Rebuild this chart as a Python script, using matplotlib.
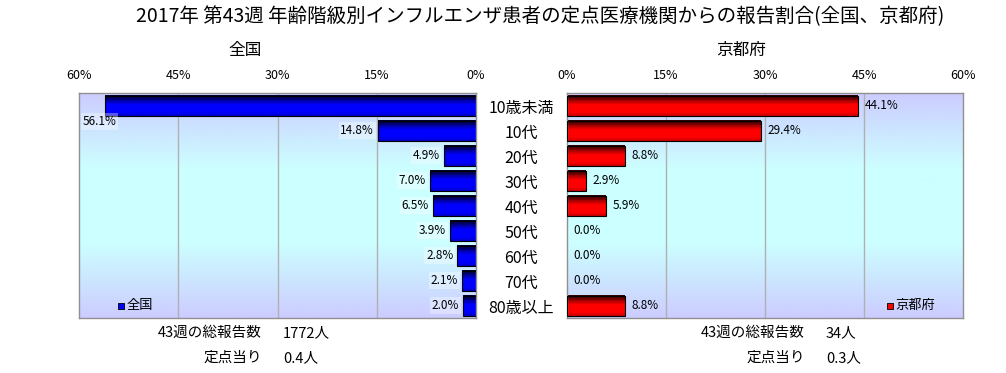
import numpy as np
import matplotlib
matplotlib.use("Agg")
import matplotlib.pyplot as plt
from matplotlib.colors import LinearSegmentedColormap

plt.rcParams['font.family'] = ['Noto Sans CJK JP', 'DejaVu Sans']

categories = ['10歳未満', '10代', '20代', '30代', '40代', '50代', '60代', '70代', '80歳以上']
zenkoku = [56.1, 14.8, 4.9, 7.0, 6.5, 3.9, 2.8, 2.1, 2.0]
kyoto = [44.1, 29.4, 8.8, 2.9, 5.9, 0.0, 0.0, 0.0, 8.8]
ticks = [0, 15, 30, 45, 60]
tick_labels = ['0%', '15%', '30%', '45%', '60%']
title = '2017年 第43週 年齢階級別インフルエンザ患者の定点医療機関からの報告割合(全国、京都府)'
left_title = '全国'
right_title = '京都府'
left_notes = [('43週の総報告数', '1772人'), ('定点当り', '0.4人')]
right_notes = [('43週の総報告数', '34人'), ('定点当り', '0.3人')]

W, H = 1006, 373
fig = plt.figure(figsize=(W / 100, H / 100), dpi=100)
fig.patch.set_facecolor('white')

bg_cmap = LinearSegmentedColormap.from_list('bg', ['#ccccff', '#ccffff', '#ccffff', '#ccccff'])
blue_cmap = LinearSegmentedColormap.from_list(
    'bl', [(0, '#000030'), (0.15, '#000070'), (0.45, '#0000ff'), (0.85, '#0000ff'), (1, '#0000cc')])
red_cmap = LinearSegmentedColormap.from_list(
    'rd', [(0, '#300000'), (0.15, '#700000'), (0.45, '#ff0000'), (0.85, '#ff0000'), (1, '#cc0000')])

ax_l = fig.add_axes([79 / W, 1 - 318 / H, 397 / W, 225 / H])
ax_r = fig.add_axes([567 / W, 1 - 318 / H, 396 / W, 225 / H])

n = len(categories)
ypos = np.arange(n)
bar_h = 0.8
strips = 24


def setup(ax, invert):
    xl = (60, 0) if invert else (0, 60)
    grad = np.linspace(0, 1, 256).reshape(-1, 1)
    ax.imshow(grad, aspect='auto', cmap=bg_cmap, origin='upper',
              extent=[xl[0], xl[1], n - 0.5, -0.5], zorder=0)
    ax.set_xlim(*xl)
    ax.set_ylim(n - 0.5, -0.5)
    for t in [15, 30, 45]:
        ax.axvline(t, color='#b0b0b0', lw=1, zorder=1)
    ax.xaxis.tick_top()
    ax.set_xticks(ticks)
    ax.set_xticklabels(tick_labels, fontsize=9)
    ax.tick_params(axis='x', length=0, pad=8)
    ax.set_yticks([])
    for s in ax.spines.values():
        s.set_color('#909090')
        s.set_linewidth(1)


def draw_bars(ax, vals, cmap, invert):
    sh = bar_h / strips
    for y, v in zip(ypos, vals):
        if v <= 0:
            continue
        top = y - bar_h / 2  # visually top (y axis inverted)
        for k in range(strips):
            ax.barh([top + (k + 0.5) * sh], [v], height=sh * 1.05, color=cmap(k / (strips - 1)),
                    lw=0, zorder=2)
        ax.barh([y], [v], height=bar_h, color='none', edgecolor='black', lw=0.8, zorder=3)
    ax.set_xlim(*((60, 0) if invert else (0, 60)))
    ax.set_ylim(n - 0.5, -0.5)


setup(ax_l, True)
setup(ax_r, False)
draw_bars(ax_l, zenkoku, blue_cmap, True)
draw_bars(ax_r, kyoto, red_cmap, False)

box = dict(boxstyle='square,pad=0.15', facecolor='white', alpha=0.35, edgecolor='none')
for y, v in zip(ypos, zenkoku):
    lab = f'{v:.1f}%'
    if v > 52:
        ax_l.text(59.5, y + 0.65, lab, ha='left', va='center', fontsize=8.5, zorder=4, bbox=box)
    else:
        ax_l.text(v + 0.6, y, lab, ha='right', va='center', fontsize=8.5, zorder=4, bbox=box)
for y, v in zip(ypos, kyoto):
    ax_r.text(v + 1.0, y, f'{v:.1f}%', ha='left', va='center', fontsize=8.5, zorder=4)

# legends
ax_l.scatter([53.6], [8], marker='s', s=20, color='#0000ff', edgecolor='black', lw=0.6, zorder=5)
ax_l.text(52.8, 8, left_title, ha='left', va='center', fontsize=9.5, zorder=5)
ax_r.scatter([48.9], [8], marker='s', s=20, color='#ff0000', edgecolor='black', lw=0.6, zorder=5)
ax_r.text(49.7, 8, right_title, ha='left', va='center', fontsize=9.5, zorder=5)

# category labels between axes
for y, c in zip(ypos, categories):
    disp = ax_l.transData.transform((0, y + 0.12))
    fy = fig.transFigure.inverted().transform(disp)[1]
    fig.text(521 / W, fy, c, ha='center', va='center', fontsize=11.5)

fig.text(540 / W, 1 - 17 / H, title, ha='center', va='center', fontsize=14)
fig.text(245 / W, 1 - 50 / H, left_title, ha='center', va='center', fontsize=12)
fig.text(741 / W, 1 - 50 / H, right_title, ha='center', va='center', fontsize=12)

for (k, v), yy in zip(left_notes, [333, 358]):
    fig.text(262 / W, 1 - yy / H, k, ha='right', va='center', fontsize=10.5)
    fig.text(283 / W, 1 - yy / H, v, ha='left', va='center', fontsize=10.5)
for (k, v), yy in zip(right_notes, [333, 358]):
    fig.text(805 / W, 1 - yy / H, k, ha='right', va='center', fontsize=10.5)
    fig.text(826 / W, 1 - yy / H, v, ha='left', va='center', fontsize=10.5)

fig.savefig('out.png', dpi=100)
